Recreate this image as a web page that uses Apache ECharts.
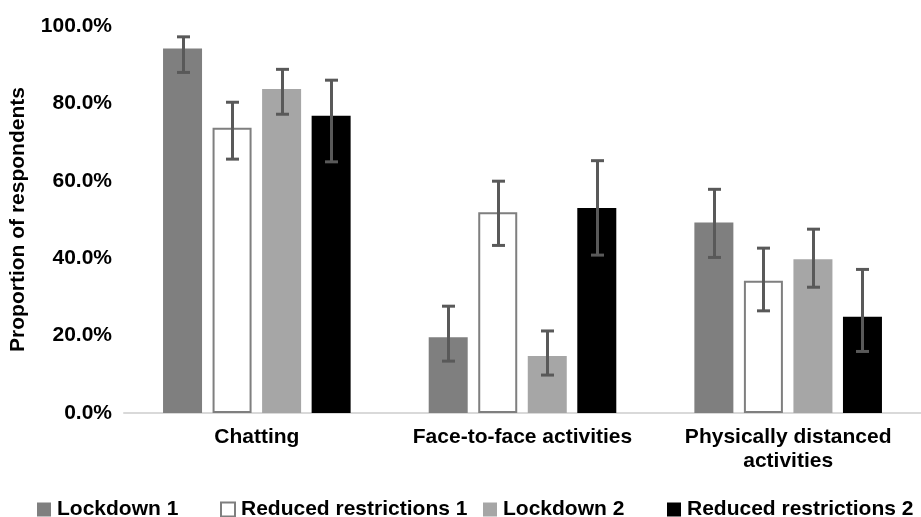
<!DOCTYPE html>
<html><head><meta charset="utf-8">
<script src="https://cdn.jsdelivr.net/npm/echarts@6/dist/echarts.min.js"></script>
<style>html,body{margin:0;padding:0;background:#fff}#c{width:921px;height:517px}</style>
</head><body><div id="c"></div>
<script>
// ---- data ----
const categories = ['Chatting', 'Face-to-face activities', 'Physically distanced\nactivities'];
const seriesNames = ['Lockdown 1', 'Reduced restrictions 1', 'Lockdown 2', 'Reduced restrictions 2'];
const lockdown1 = [94.2, 19.6, 49.2];
const reduced1 = [73.7, 51.9, 34.2];
const lockdown2 = [83.7, 14.7, 39.7];
const reduced2 = [76.8, 53.0, 24.9];
const lockdown1Upper = [97.2, 27.6, 57.8];
const lockdown1Lower = [88.0, 13.4, 40.2];
const reduced1Upper = [80.3, 59.9, 42.6];
const reduced1Lower = [65.6, 43.3, 26.4];
const lockdown2Upper = [88.8, 21.2, 47.5];
const lockdown2Lower = [77.2, 9.8, 32.5];
const reduced2Upper = [86.0, 65.2, 37.1];
const reduced2Lower = [64.9, 40.8, 15.9];
const yTickMin = 0, yTickMax = 100, yTickStep = 20;

// ---- styles ----
const FONT = 'Liberation Sans, Arial, sans-serif';
const BAR_W = 39;
const BAR_GAP = 0.27;
const PITCH = BAR_W * (1 + BAR_GAP);
const CAP = 6.5;

const values = [lockdown1, reduced1, lockdown2, reduced2];
const uppers = [lockdown1Upper, reduced1Upper, lockdown2Upper, reduced2Upper];
const lowers = [lockdown1Lower, reduced1Lower, lockdown2Lower, reduced2Lower];
const styles = [
  {color: '#7f7f7f'},
  {color: '#ffffff', borderColor: '#7f7f7f', borderWidth: 2},
  {color: '#a6a6a6'},
  {color: '#000000'}
];

const chart = echarts.init(document.getElementById('c'), null, {renderer: 'canvas'});

const series = [];
values.forEach((v, i) => {
  series.push({
    name: seriesNames[i], type: 'bar', data: v, barWidth: BAR_W,
    barGap: (BAR_GAP * 100) + '%', itemStyle: styles[i], silent: true, z: 2
  });
});
values.forEach((v, i) => {
  series.push({
    type: 'custom', silent: true, z: 10,
    data: lowers[i].map((l, k) => [k, l, uppers[i][k]]),
    encode: {x: 0, y: [1, 2]},
    renderItem: (params, api) => {
      const off = (i - 1.5) * PITCH;
      const lo = api.coord([api.value(0), api.value(1)]);
      const hi = api.coord([api.value(0), api.value(2)]);
      const x = Math.round(lo[0] + off) + 0.5;
      const st = {stroke: '#595959', lineWidth: 3, fill: null};
      return {type: 'group', children: [
        {type: 'line', shape: {x1: x, y1: hi[1], x2: x, y2: lo[1]}, style: st},
        {type: 'line', shape: {x1: x - CAP, y1: hi[1], x2: x + CAP, y2: hi[1]}, style: st},
        {type: 'line', shape: {x1: x - CAP, y1: lo[1], x2: x + CAP, y2: lo[1]}, style: st}
      ]};
    }
  });
});

const legendLefts = [32, 215, 478, 662];
const legends = seriesNames.map((n, i) => ({
  data: [n], left: legendLefts[i], top: 494, itemWidth: 14, itemHeight: 14, itemGap: 0,
  icon: 'rect', selectedMode: false,
  textStyle: {fontFamily: FONT, fontSize: 21, fontWeight: 'bold', color: '#000', padding: [0, 0, 0, 1]}
}));

chart.setOption({
  animation: false,
  backgroundColor: '#fff',
  textStyle: {fontFamily: FONT},
  grid: {left: 124, top: 26, width: 810, height: 387, containLabel: false},
  legend: legends,
  xAxis: {
    type: 'category', data: categories,
    axisLine: {show: true, lineStyle: {color: '#d9d9d9', width: 2}},
    axisTick: {show: false},
    axisLabel: {interval: 0, fontFamily: FONT, fontSize: 21, fontWeight: 'bold', color: '#000', margin: 12, lineHeight: 24}
  },
  yAxis: {
    type: 'value', min: yTickMin, max: yTickMax, interval: yTickStep,
    name: 'Proportion of respondents', nameLocation: 'middle', nameGap: 95,
    nameTextStyle: {fontFamily: FONT, fontSize: 21, fontWeight: 'bold', color: '#000'},
    axisLine: {show: false}, axisTick: {show: false}, splitLine: {show: false},
    axisLabel: {fontFamily: FONT, fontSize: 21, fontWeight: 'bold', color: '#000', margin: 12,
      formatter: v => v.toFixed(1) + '%'}
  },
  series: series
});
</script>
</body></html>
